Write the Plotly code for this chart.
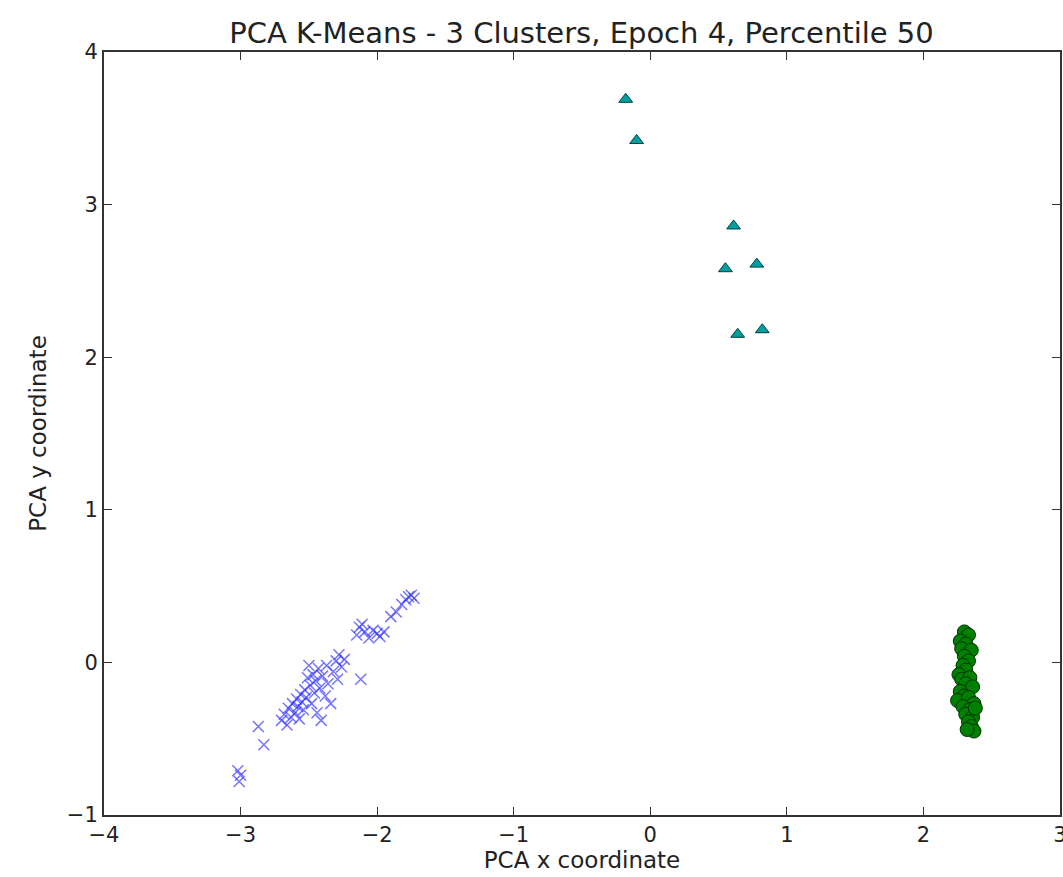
import plotly.graph_objects as go

# Cluster 1 (blue crosses)
blue_x = [-3.02, -3.01, -3.00, -2.87, -2.83,
          -2.70, -2.68, -2.66, -2.65, -2.63, -2.62, -2.60, -2.59, -2.58, -2.57,
          -2.56, -2.55, -2.54, -2.53, -2.52, -2.51, -2.50, -2.49, -2.48, -2.47,
          -2.46, -2.45, -2.44, -2.43, -2.42, -2.41, -2.40, -2.38, -2.37, -2.36,
          -2.34, -2.32, -2.30, -2.29, -2.28, -2.26, -2.24, -2.12,
          -2.15, -2.13, -2.11, -2.09, -2.06, -2.03, -2.00, -1.98, -1.95,
          -1.90, -1.86, -1.82, -1.79, -1.77, -1.75, -1.73]
blue_y = [-0.71, -0.78, -0.74, -0.42, -0.54,
          -0.38, -0.34, -0.41, -0.30, -0.36, -0.27, -0.33, -0.24, -0.29, -0.37,
          -0.21, -0.26, -0.31, -0.18, -0.23, -0.10, -0.02, -0.15, -0.27, -0.08,
          -0.20, -0.12, -0.33, -0.04, -0.17, -0.38, -0.09, -0.22, -0.02, -0.14,
          -0.27, -0.06, 0.01, -0.11, 0.05, -0.03, 0.02, -0.11,
          0.18, 0.23, 0.25, 0.20, 0.16, 0.21, 0.19, 0.17, 0.20,
          0.30, 0.33, 0.38, 0.41, 0.43, 0.44, 0.42]

# Cluster 2 (green circles)
green_x = [2.30, 2.33, 2.27, 2.31, 2.28, 2.35, 2.30, 2.33, 2.29, 2.31,
           2.26, 2.28, 2.34, 2.31, 2.36, 2.27, 2.30, 2.25, 2.33, 2.37,
           2.29, 2.34, 2.31, 2.36, 2.33, 2.35, 2.37, 2.32, 2.38]
green_y = [0.20, 0.18, 0.14, 0.12, 0.09, 0.08, 0.04, 0.01, -0.02, -0.05,
           -0.08, -0.11, -0.10, -0.14, -0.16, -0.19, -0.22, -0.25, -0.23, -0.27,
           -0.29, -0.31, -0.34, -0.36, -0.39, -0.42, -0.45, -0.44, -0.30]

# Cluster 3 (cyan triangles)
cyan_x = [-0.18, -0.10, 0.61, 0.55, 0.78, 0.64, 0.82]
cyan_y = [3.69, 3.42, 2.86, 2.58, 2.61, 2.15, 2.18]

x_ticks = [-4, -3, -2, -1, 0, 1, 2, 3]
y_ticks = [-1, 0, 1, 2, 3, 4]

FONT = "DejaVu Sans"
TEXT = "#222"

fig = go.Figure()
fig.add_trace(go.Scatter(
    x=blue_x, y=blue_y, mode="markers",
    marker=dict(symbol="x-thin", size=11, color="rgba(0,0,255,0.8)",
                line=dict(color="rgba(60,60,255,0.7)", width=1.5)),
))
fig.add_trace(go.Scatter(
    x=green_x, y=green_y, mode="markers",
    marker=dict(symbol="circle", size=14, color="#008000",
                line=dict(color="#003000", width=1)),
))
fig.add_trace(go.Scatter(
    x=cyan_x, y=cyan_y, mode="markers",
    marker=dict(symbol="triangle-up", size=12, color="#00a0a0",
                line=dict(color="#004040", width=1)),
))

axis_common = dict(
    showgrid=False, zeroline=False, showline=True, linecolor="#333",
    linewidth=2, mirror="ticks", ticks="inside", ticklen=8, tickwidth=1,
    tickcolor="#333", tickfont=dict(family=FONT, size=21, color=TEXT),
    ticklabeloverflow="allow",
)

fig.update_layout(
    width=1063, height=877,
    margin=dict(l=104, r=1, t=52, b=62),
    paper_bgcolor="white", plot_bgcolor="white",
    showlegend=False,
    title=dict(text="PCA K-Means - 3 Clusters, Epoch 4, Percentile 50",
               x=(205 + 958) / 2 / 1063, xanchor="center",
               y=1 - 33 / 877, yanchor="middle", yref="container",
               font=dict(family=FONT, size=29, color=TEXT)),
    xaxis=dict(range=[-4, 3], tickvals=x_ticks, automargin=False,
               title=dict(text="PCA x coordinate", standoff=4,
                          font=dict(family=FONT, size=23, color=TEXT)),
               **axis_common),
    yaxis=dict(range=[-1, 4], tickvals=y_ticks,
               title=dict(text="PCA y coordinate", standoff=14,
                          font=dict(family=FONT, size=23, color=TEXT)),
               **axis_common),
)

fig.write_html("out.html")
